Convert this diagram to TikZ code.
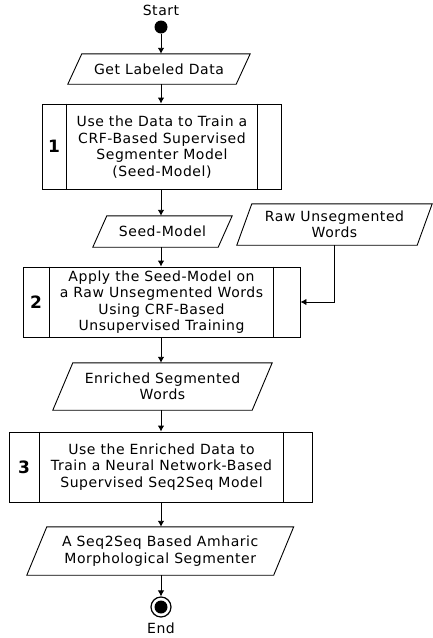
\documentclass[tikz,border=0pt]{standalone}
\usepackage{fontspec}
\setmainfont{DejaVu Sans}[LetterSpace=4]
\usetikzlibrary{arrows.meta}
\begin{document}
\begin{tikzpicture}[x=1pt,y=-1pt,
  txt/.style={font=\fontsize{14}{16.5}\selectfont, align=center, inner sep=0pt},
  num/.style={font=\fontsize{17}{17}\selectfont\bfseries, inner sep=0pt},
  procbox/.style={draw, line width=0.9pt, inner sep=0pt},
  iobox/.style={inner sep=0pt},
  frame/.style={line width=0.9pt, line join=miter},
  arr/.style={-{Latex[length=6pt,width=6.5pt]}, line width=0.9pt}]
\useasboundingbox (0,0) rectangle (433,638);
\newcommand\paraframe[2]{\draw[frame] ([xshift={#2*0.5pt}]#1.north west) -- ([xshift={#2*0.5pt}]#1.north east) -- ([xshift={-#2*0.5pt}]#1.south east) -- ([xshift={-#2*0.5pt}]#1.south west) -- cycle;}
% start
\node[txt] (startlbl) at (161,10) {Start};
\node[circle, fill, inner sep=0pt, minimum size=13] (start) at (161,27) {};
% get labeled data
\node[iobox, minimum width=168, minimum height=30] (gld) at (159,69) {};
\paraframe{gld}{14}
\node[txt] at (gld.center) {Get Labeled Data};
% box 1
\node[procbox, minimum width=239, minimum height=85] (b1) at (161.5,146.5) {};
\draw[frame] ([xshift=25pt]b1.north west) -- ([xshift=25pt]b1.south west);
\draw[frame] ([xshift=-24pt]b1.north east) -- ([xshift=-24pt]b1.south east);
\node[num] at ([xshift=12.5pt]b1.west) {1};
\node[txt] at (162,147) {Use the Data to Train a\\CRF-Based Supervised\\Segmenter Model\\(Seed-Model)};
% seed model
\node[iobox, minimum width=125, minimum height=31] (seed) at (162.5,231.5) {};
\paraframe{seed}{14}
\node[txt] at (seed.center) {Seed-Model};
% raw
\node[iobox, minimum width=180, minimum height=41] (raw) at (334.5,224.5) {};
\paraframe{raw}{15}
\node[txt] at (raw.center) {Raw Unsegmented\\Words};
% box 2
\node[procbox, minimum width=277, minimum height=70] (b2) at (161.5,302) {};
\draw[frame] ([xshift=27pt]b2.north west) -- ([xshift=27pt]b2.south west);
\draw[frame] ([xshift=-27pt]b2.north east) -- ([xshift=-27pt]b2.south east);
\node[num] at ([xshift=13.5pt]b2.west) {2};
\node[txt] at (161.5,302) {Apply the Seed-Model on\\a Raw Unsegmented Words\\Using CRF-Based\\Unsupervised Training};
% enriched
\node[iobox, minimum width=199, minimum height=47] (enr) at (162.5,386.5) {};
\paraframe{enr}{20}
\node[txt] at (enr.center) {Enriched Segmented\\Words};
% box 3
\node[procbox, minimum width=303, minimum height=70] (b3) at (160.5,467) {};
\draw[frame] ([xshift=31pt]b3.north west) -- ([xshift=31pt]b3.south west);
\draw[frame] ([xshift=-29pt]b3.north east) -- ([xshift=-29pt]b3.south east);
\node[num] at ([xshift=15.5pt]b3.west) {3};
\node[txt] at (161.5,467) {Use the Enriched Data to\\Train a Neural Network-Based\\Supervised Seq2Seq Model};
% seq2seq
\node[iobox, minimum width=246.5, minimum height=48] (s2s) at (160.25,551) {};
\paraframe{s2s}{20}
\node[txt] at (s2s.center) {A Seq2Seq Based Amharic\\Morphological Segmenter};
% end
\node[circle, draw, line width=1.2pt, inner sep=0pt, minimum size=20] (end) at (161,607) {};
\fill (end.center) circle (6.5);
\node[txt] (endlbl) at (161,628) {End};
% arrows
\draw[arr] (start) -- (start |- gld.north);
\draw[arr] (start |- gld.south) -- (start |- b1.north);
\draw[arr] (start |- b1.south) -- (start |- seed.north);
\draw[arr] (start |- seed.south) -- (start |- b2.north);
\draw[arr] (raw.south) |- (b2.east);
\draw[arr] (start |- b2.south) -- (start |- enr.north);
\draw[arr] (start |- enr.south) -- (start |- b3.north);
\draw[arr] (start |- b3.south) -- (start |- s2s.north);
\draw[arr] (start |- s2s.south) -- (end.north);
\end{tikzpicture}
\end{document}
